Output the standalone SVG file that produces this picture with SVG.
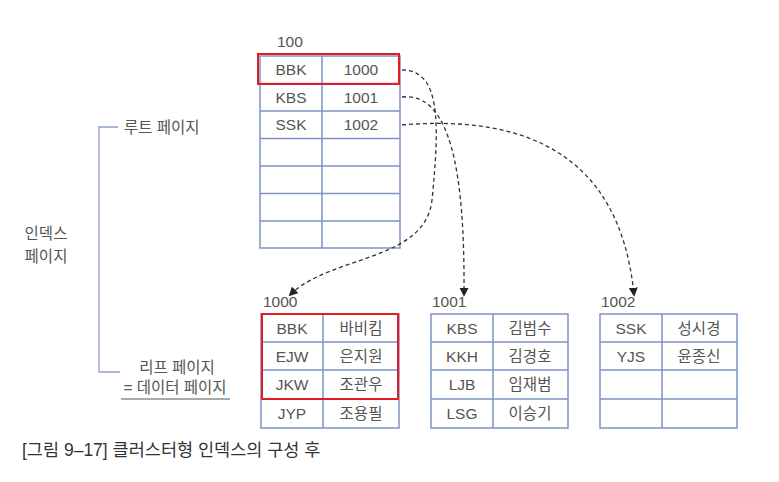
<svg xmlns="http://www.w3.org/2000/svg" width="779" height="482" viewBox="0 0 779 482">
<style>
text{font-family:"Liberation Sans","Noto Sans CJK KR",sans-serif;font-size:15.5px;fill:#555}
.c{text-anchor:middle}
.t{fill:none;stroke:#7f93c9;stroke-width:1.5}
.r{fill:none;stroke:#e31b23;stroke-width:2}
.a{fill:none;stroke:#333;stroke-width:1.3;stroke-dasharray:4 3}
.b{fill:none;stroke:#8fa0cf;stroke-width:1.3}
</style>
<defs><marker id="m" viewBox="0 0 10 10" refX="8" refY="5" markerWidth="7" markerHeight="7" orient="auto"><path d="M0,0L10,5L0,10z" fill="#222"/></marker></defs>
<rect width="779" height="482" fill="#fff"/>
<g id="labels">
<path class="b" d="M118,127H99V372H120"/>
<text x="124" y="133">루트 페이지</text>
<text x="46" y="239" class="c">인덱스</text>
<text x="46" y="262" class="c">페이지</text>
<text x="177" y="373" class="c">리프 페이지</text>
<text x="175" y="393" class="c">= 데이터 페이지</text>
<line x1="121" y1="399" x2="230" y2="399" stroke="#555" stroke-width="1"/>
<text x="22" y="456" style="font-size:17.5px;fill:#333">[그림 9–17] 클러스터형 인덱스의 구성 후</text>
</g>
<g id="root">
<text x="277" y="47">100</text>
<rect class="t" x="260" y="56" width="140" height="192"/>
<path class="t" d="M322,56V248M260,83.5H400M260,111H400M260,138.5H400M260,166H400M260,193.5H400M260,221H400"/>
<text x="291" y="75" class="c">BBK</text><text x="361" y="75" class="c">1000</text>
<text x="291" y="103" class="c">KBS</text><text x="361" y="103" class="c">1001</text>
<text x="291" y="130" class="c">SSK</text><text x="361" y="130" class="c">1002</text>
<rect class="r" x="258" y="54" width="141" height="30"/>
</g>
<g id="leaf1000">
<text x="263" y="307">1000</text>
<rect class="t" x="261" y="314" width="138" height="114"/>
<path class="t" d="M323,314V428M261,342H399M261,370H399M261,399H399"/>
<text x="292" y="334" class="c">BBK</text><text x="361" y="334" class="c">바비킴</text>
<text x="292" y="362" class="c">EJW</text><text x="361" y="362" class="c">은지원</text>
<text x="292" y="390" class="c">JKW</text><text x="361" y="390" class="c">조관우</text>
<text x="292" y="419" class="c">JYP</text><text x="361" y="419" class="c">조용필</text>
<rect class="r" x="262" y="314" width="136" height="85"/>
</g>
<g id="leaf1001">
<text x="432" y="307">1001</text>
<rect class="t" x="431" y="314" width="137" height="114"/>
<path class="t" d="M493,314V428M431,342H568M431,370H568M431,399H568"/>
<text x="462" y="334" class="c">KBS</text><text x="530" y="334" class="c">김범수</text>
<text x="462" y="362" class="c">KKH</text><text x="530" y="362" class="c">김경호</text>
<text x="462" y="390" class="c">LJB</text><text x="530" y="390" class="c">임재범</text>
<text x="462" y="419" class="c">LSG</text><text x="530" y="419" class="c">이승기</text>
</g>
<g id="leaf1002">
<text x="601" y="307">1002</text>
<rect class="t" x="600" y="314" width="137" height="114"/>
<path class="t" d="M662,314V428M600,342H737M600,370H737M600,399H737"/>
<text x="631" y="334" class="c">SSK</text><text x="699" y="334" class="c">성시경</text>
<text x="631" y="362" class="c">YJS</text><text x="699" y="362" class="c">윤종신</text>
</g>
<g id="connectors">
<path class="a" d="M402,70C440,70 440,120 432,200C425,262 330,255 290,295" marker-end="url(#m)"/>
<path class="a" d="M402,97C450,92 465,170 464,295" marker-end="url(#m)"/>
<path class="a" d="M402,125C520,115 620,150 634,295" marker-end="url(#m)"/>
</g>
</svg>
